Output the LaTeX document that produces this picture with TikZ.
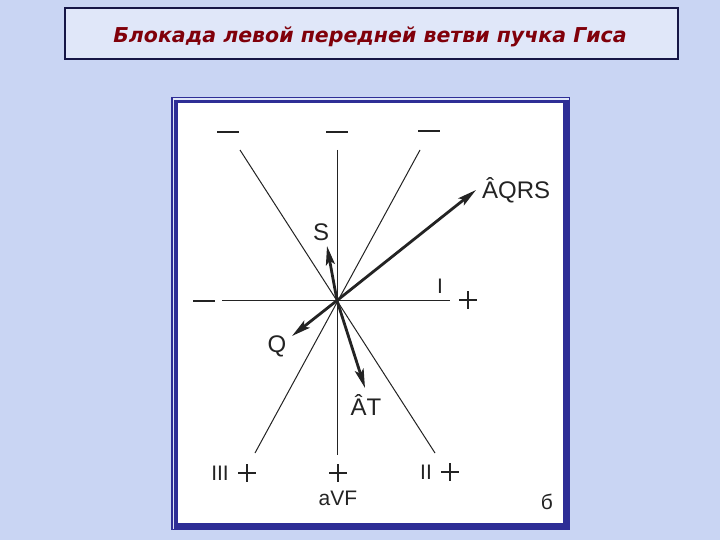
\documentclass[tikz,border=0pt]{standalone}
\usepackage{fontspec}
\setmainfont{Liberation Sans}
\newfontfamily\titlefont{DejaVu Sans}
\usetikzlibrary{arrows.meta}

\definecolor{bgblue}{RGB}{201,213,243}
\definecolor{boxblue}{RGB}{224,231,249}
\definecolor{navy}{RGB}{22,22,70}
\definecolor{framebl}{RGB}{46,46,150}
\definecolor{titlered}{RGB}{128,0,10}
\definecolor{ink}{RGB}{35,35,35}

\tikzset{
  axis/.style={ink,line width=1pt},
  vec/.style={ink,line width=2.8pt,-{Stealth[length=19pt,width=9pt,inset=4pt]}},
  sgn/.style={ink,line width=2.2pt},
  lbl/.style={ink,inner sep=0pt,font=\fontsize{24}{24}\selectfont},
  lead/.style={ink,inner sep=0pt,font=\fontsize{21}{21}\selectfont}
}
\newcommand{\plussign}[1]{\draw[sgn] (#1) ++(-9,0) -- ++(18,0) (#1) ++(0,-9) -- ++(0,18);}
\newcommand{\minussign}[1]{\draw[sgn,line width=2.8pt] (#1) ++(-11,0) -- ++(22,0);}

\begin{document}
\begin{tikzpicture}[x=1pt,y=-1pt]
  \useasboundingbox (0,0) rectangle (720,540);
  \fill[bgblue] (0,0) rectangle (720,540);

  \draw[navy,line width=1.2pt,fill=boxblue] (65,8) rectangle (678,59);
  \node[titlered,inner sep=0pt] (title) at (370,37)
    {\titlefont\bfseries\itshape\fontsize{20.5}{20.5}\selectfont Блокада левой передней ветви пучка Гиса};

  \fill[framebl] (171,97) rectangle (570,530);
  \fill[bgblue!60!white] (172.5,98.5) rectangle (568.5,528.5);
  \fill[framebl] (174,100) rectangle (569,529);
  \fill[white] (177.5,103.5) rectangle (563,523);

  \coordinate (o) at (337,300.5);
  \coordinate (avfT) at (337,150);
  \coordinate (avfB) at (337,455);
  \coordinate (iL) at (222,300.5);
  \coordinate (iR) at (450,300.5);
  \coordinate (iiT) at (240,150);
  \coordinate (iiB) at (435,453);
  \coordinate (iiiT) at (420,150);
  \coordinate (iiiB) at (255,453);

  \draw[axis] (avfT) -- (avfB);
  \draw[axis] (iL) -- (iR);
  \draw[axis] (iiT) -- (iiB);
  \draw[axis] (iiiT) -- (iiiB);

  \coordinate (m1) at (228,132);
  \coordinate (m2) at (337,132);
  \coordinate (m3) at (429,131);
  \coordinate (m4) at (204,301);
  \minussign{m1}
  \minussign{m2}
  \minussign{m3}
  \minussign{m4}

  \coordinate (p1) at (468,300);
  \coordinate (p2) at (247,473);
  \coordinate (p3) at (338,473);
  \coordinate (p4) at (450,472);
  \plussign{p1}
  \plussign{p2}
  \plussign{p3}
  \plussign{p4}

  \node[lead] (li) at (440,286) {I};
  \node[lead] (liii) at (220,473) {III};
  \node[lead] (lii) at (426,472) {II};
  \node[lead] (lavf) at (338,498) {aVF};
  \node[lead] (lb) at (547,502) {б};

  \coordinate (qrs) at (476,190);
  \coordinate (s) at (327,246);
  \coordinate (q) at (292,336);
  \coordinate (t) at (365,388);
  \draw[vec] (o) -- (qrs);
  \draw[vec] (o) -- (s);
  \draw[vec] (o) -- (q);
  \draw[vec] (o) -- (t);

  \node[lbl,anchor=west] (lqrs) at (482,190) {ÂQRS};
  \node[lbl] (ls) at (321,232) {S};
  \node[lbl] (lq) at (277,346) {Q};
  \node[lbl] (lt) at (366,405) {ÂT};
\end{tikzpicture}
\end{document}
